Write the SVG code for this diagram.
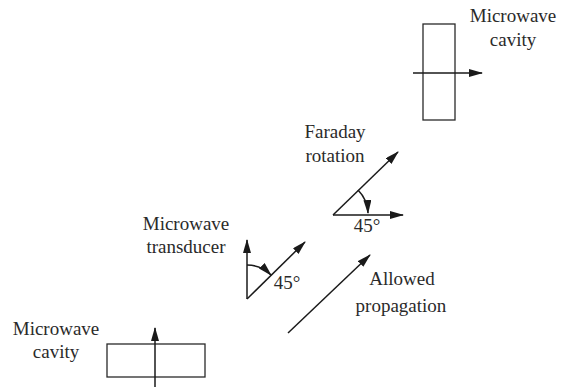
<svg xmlns="http://www.w3.org/2000/svg" width="562" height="387" viewBox="0 0 562 387">
<defs>
<marker id="ah" markerUnits="userSpaceOnUse" markerWidth="14" markerHeight="8" refX="13" refY="4" orient="auto">
<path d="M0,0 L14,4 L0,8 Z" fill="#1a1a1a"/>
</marker>
</defs>
<style>
.t{font-family:"Liberation Serif","Times New Roman",serif;font-size:19px;fill:#2a2a2a;text-anchor:middle}
.b{fill:none;stroke:#2a2a2a;stroke-width:1.3}
.l{fill:none;stroke:#1a1a1a;stroke-width:1.5;marker-end:url(#ah)}
</style>
<rect width="562" height="387" fill="#fff"/>
<g id="cavity-top">
<rect class="b" x="423" y="24" width="32" height="96"/>
<text class="t" x="513" y="22">Microwave</text>
<text class="t" x="513" y="46">cavity</text>
</g>
<g id="faraday">
<text class="t" x="335" y="138">Faraday</text>
<text class="t" x="335" y="162">rotation</text>
<text class="t" x="367" y="232">45°</text>
</g>
<g id="transducer">
<text class="t" x="186" y="230">Microwave</text>
<text class="t" x="186" y="253">transducer</text>
<text class="t" x="287" y="289">45°</text>
</g>
<g id="cavity-bottom">
<rect class="b" x="107" y="344" width="98" height="33"/>
<text class="t" x="56" y="335">Microwave</text>
<text class="t" x="56" y="358">cavity</text>
</g>
<g id="propagation">
<text class="t" x="402" y="285">Allowed</text>
<text class="t" x="401" y="312">propagation</text>
</g>
<g id="connectors">
<line class="l" x1="413" y1="73" x2="482" y2="73"/>
<line class="l" x1="333" y1="215" x2="403" y2="215"/>
<line class="l" x1="333" y1="215" x2="398" y2="152"/>
<path class="l" d="M358,190 A35,35 0 0 1 368,213"/>
<line class="l" x1="247" y1="299" x2="247" y2="240"/>
<line class="l" x1="247" y1="299" x2="305" y2="242"/>
<path class="l" d="M247,265 A34,34 0 0 1 271,275"/>
<line class="l" x1="288" y1="333" x2="370" y2="255"/>
<line class="l" x1="155" y1="387" x2="155" y2="328"/>
</g>
</svg>
